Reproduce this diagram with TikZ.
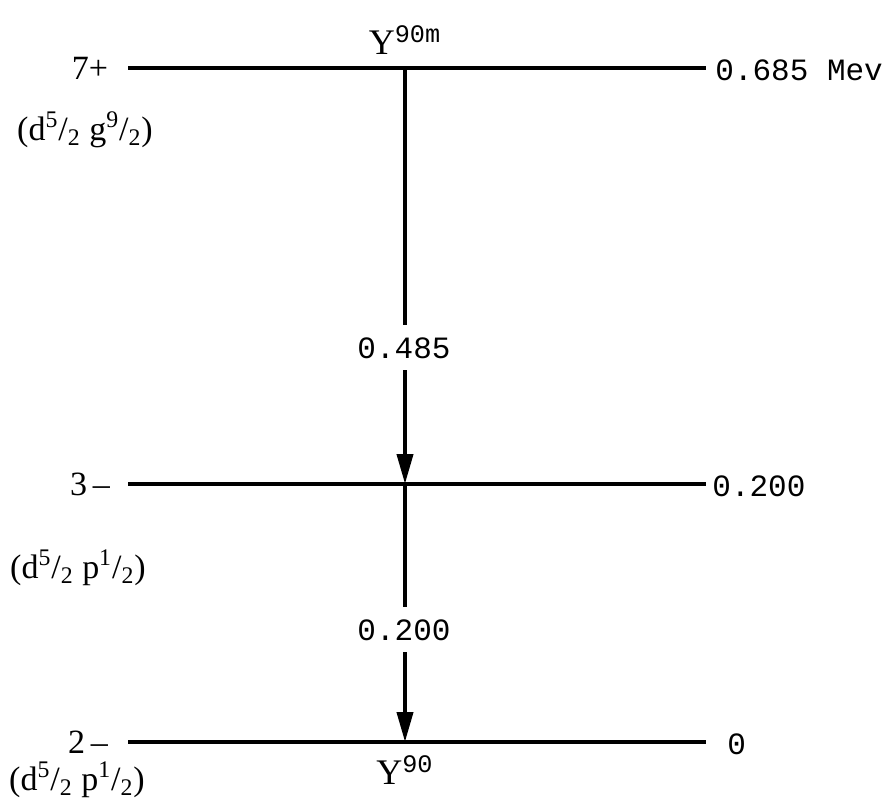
\documentclass[tikz,border=0pt]{standalone}
\usepackage{fontspec}
\setmainfont{Liberation Serif}
\newfontfamily\typew{Liberation Mono}
\usetikzlibrary{arrows.meta}
\begin{document}
\begin{tikzpicture}[x=0.5pt,y=-0.5pt,
  level/.style={line width=2pt},
  decay/.style={line width=2pt},
  decayarrow/.style={line width=2pt,-{Triangle[length=15pt,width=8pt]}},
  val/.style={font=\typew\fontsize{15.5}{18}\selectfont,inner sep=0pt},
  iso/.style={font=\fontsize{18}{20}\selectfont,inner sep=0pt},
  spin/.style={font=\fontsize{17}{20}\selectfont,inner sep=0pt},
  conf/.style={font=\fontsize{17}{20}\selectfont,inner sep=0pt}]
\useasboundingbox (0,0) rectangle (896,800);
% levels
\coordinate (aL) at (128,68);  \coordinate (aR) at (706,68);
\coordinate (bL) at (128,484); \coordinate (bR) at (706,484);
\coordinate (cL) at (128,742); \coordinate (cR) at (706,742);
\draw[level] (aL) -- (aR);
\draw[level] (bL) -- (bR);
\draw[level] (cL) -- (cR);
% transitions
\coordinate (t1) at (405,68);  \coordinate (t1e) at (405,325);
\coordinate (a1s) at (405,370); \coordinate (a1e) at (405,484);
\coordinate (t2) at (405,484); \coordinate (t2e) at (405,607);
\coordinate (a2s) at (405,652); \coordinate (a2e) at (405,742);
\draw[decay] (t1) -- (t1e);
\draw[decayarrow] (a1s) -- (a1e);
\draw[decay] (t2) -- (t2e);
\draw[decayarrow] (a2s) -- (a2e);
% labels
\node[iso] (ym) at (405,40) {Y\textsuperscript{\typew 90m}};
\node[val] (e1) at (404,348) {0.485};
\node[val] (e2) at (404,630) {0.200};
\node[iso] (y0) at (405,770) {Y\textsuperscript{\typew 90}};
\node[val,anchor=west] (ra) at (715,70) {0.685 Mev};
\node[val,anchor=west] (rb) at (712,486) {0.200};
\node[val,anchor=west] (rc) at (727,744) {0};
\node[spin] (sa) at (90,68) {7+};
\node[spin] (sb) at (90,484) {3\,–};
\node[spin] (sc) at (88,742) {2\,–};
\node[conf] (ca) at (85,130) {(d\textsuperscript{5}/\textsubscript{2} g\textsuperscript{9}/\textsubscript{2})};
\node[conf] (cb) at (78,568) {(d\textsuperscript{5}/\textsubscript{2} p\textsuperscript{1}/\textsubscript{2})};
\node[conf] (cc) at (77,780) {(d\textsuperscript{5}/\textsubscript{2} p\textsuperscript{1}/\textsubscript{2})};
\end{tikzpicture}
\end{document}
